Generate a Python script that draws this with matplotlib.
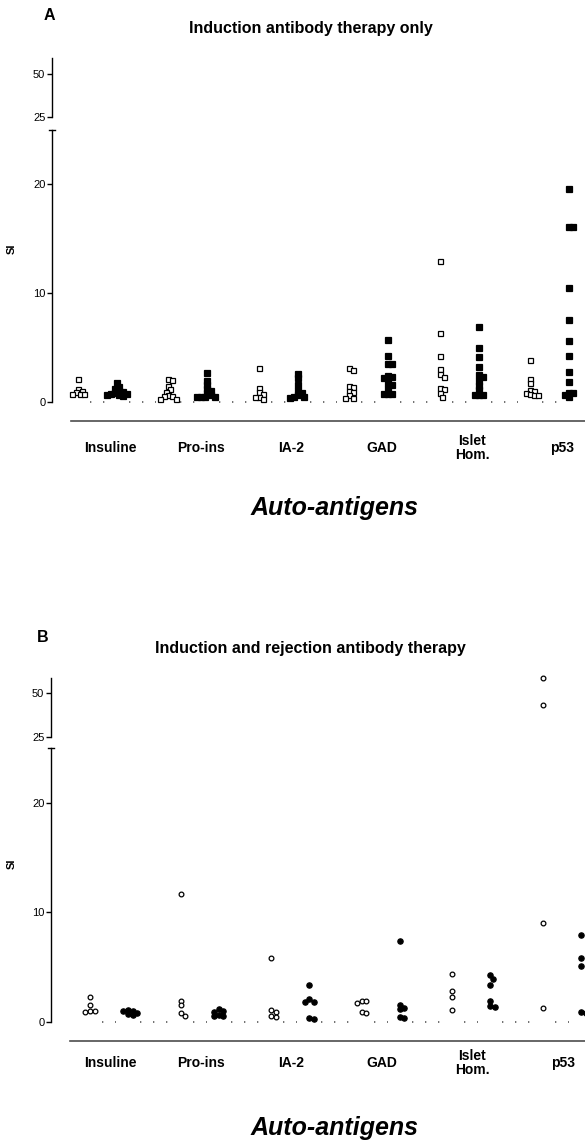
import numpy as np
import matplotlib.pyplot as plt
from matplotlib.transforms import blended_transform_factory

plt.rcParams['font.family'] = ['Liberation Sans', 'DejaVu Sans']

# --- data (SI values) ---
categories = ['Insuline', 'Pro-ins', 'IA-2', 'GAD', 'Islet\nHom.', 'p53']

# panel A: induction antibody therapy only (open = first group, filled = second)
a_open = [
    [2.1, 1.2, 1.0, 0.9, 0.7, 0.7, 0.7],
    [2.15, 2.0, 1.5, 1.2, 0.95, 0.6, 0.55, 0.55, 0.3, 0.3],
    [3.1, 1.25, 0.9, 0.7, 0.5, 0.5, 0.3],
    [3.1, 2.9, 1.5, 1.35, 1.0, 0.9, 0.6, 0.4, 0.4],
    [13.0, 6.3, 4.2, 3.0, 2.55, 2.3, 1.25, 1.2, 0.8, 0.5],
    [3.9, 2.1, 1.7, 1.1, 1.0, 0.85, 0.7, 0.6, 0.6],
]
a_filled = [
    [1.7, 1.4, 1.15, 1.0, 0.9, 0.8, 0.7, 0.7, 0.6, 0.6, 0.55],
    [2.65, 1.9, 1.55, 1.2, 1.0, 0.8, 0.6, 0.5, 0.5, 0.5, 0.45],
    [2.6, 2.2, 1.55, 1.0, 0.8, 0.6, 0.5, 0.5, 0.4],
    [5.7, 4.2, 3.5, 3.5, 2.4, 2.3, 2.2, 1.7, 1.6, 1.2, 0.75, 0.75, 0.7],
    [6.9, 4.95, 4.1, 3.25, 2.5, 2.3, 1.9, 1.5, 1.1, 0.65, 0.65, 0.65],
    [19.6, 16.1, 16.1, 10.5, 7.5, 5.6, 4.2, 2.8, 1.8, 0.85, 0.85, 0.6, 0.45],
]

# panel B: induction and rejection antibody therapy
b_open = [
    [2.3, 1.55, 1.0, 1.0, 0.95],
    [11.7, 1.95, 1.55, 0.85, 0.55],
    [5.85, 1.05, 0.95, 0.5, 0.45],
    [1.95, 1.95, 1.7, 0.95, 0.85],
    [4.35, 2.85, 2.25, 1.05],
    [58.7, 43.2, 9.0, 1.3],
]
b_filled = [
    [1.1, 1.0, 1.0, 0.8, 0.7, 0.6],
    [1.15, 1.0, 0.9, 0.6, 0.5, 0.5],
    [3.4, 2.1, 1.85, 1.85, 0.35, 0.3],
    [7.4, 1.55, 1.25, 1.15, 0.45, 0.35],
    [4.25, 3.9, 3.35, 1.95, 1.45, 1.35],
    [7.9, 5.85, 5.15, 0.95, 0.8],
]

W, H = 585, 1143
fig = plt.figure(figsize=(W / 100, H / 100), dpi=100)


def fx(px):
    return px / W


def fy(py):
    return 1 - py / H


def swarm_x(ax, x0, vals, d):
    # spread overlapping points sideways (in pixels), top values first
    vals = np.asarray(vals, float)
    pts = ax.transData.transform(np.column_stack([np.full(len(vals), x0), vals]))
    cx = pts[0, 0]
    placed = []
    out = np.empty(len(vals))
    inv = ax.transData.inverted()
    for i in np.argsort(-vals, kind='stable'):
        y = pts[i, 1]
        for k in range(80):
            m = (k + 1) // 2
            sign = 1 if k % 2 == 1 else -1
            x = cx + sign * m * d / 2
            if all(np.hypot(x - p[0], y - p[1]) >= d * 0.95 for p in placed):
                break
        placed.append((x, y))
        out[i] = inv.transform((x, y))[0]
    return out


def panel(top_px, brk_px, low_top_px, bot_px, left_px, x0_px, step_px, off_px,
          up_top, low_bot, xline_px, opens, filleds, marker, ms_open, ms_fill, d,
          letter, letter_xy, title, title_xy, lab_off, lab_y, big_y, si_y):
    xmin = (left_px - x0_px) / step_px
    xmax = (W - x0_px) / step_px
    off = off_px / step_px

    ax_up = fig.add_axes([fx(left_px), fy(brk_px), fx(W - left_px), (brk_px - top_px) / H])
    ax_lo = fig.add_axes([fx(left_px), fy(bot_px), fx(W - left_px), (bot_px - low_top_px) / H])
    ax_up.set_ylim(25, up_top)
    ax_lo.set_ylim(low_bot, 25)
    for ax in (ax_up, ax_lo):
        ax.set_xlim(xmin, xmax)
        ax.patch.set_alpha(0)
        ax.spines['top'].set_visible(False)
        ax.spines['right'].set_visible(False)
        ax.spines['left'].set_linewidth(1.0)
        ax.tick_params(axis='y', direction='out', length=3.3, width=1.0,
                       labelsize=8, pad=1.5)
        ax.tick_params(axis='x', length=0, labelbottom=False)
    ax_up.spines['bottom'].set_visible(False)
    ax_up.set_yticks([25, 50])
    ax_lo.set_yticks([0, 10, 20])
    ax_lo.spines['left'].set_bounds(0, 25)
    ax_lo.spines['bottom'].set_bounds((xline_px - x0_px) / step_px, xmax)
    ax_lo.spines['bottom'].set_color('0.3')
    ax_lo.spines['bottom'].set_linewidth(1.2)

    # little cap at the top of the lower axis segment
    tr = blended_transform_factory(ax_lo.transAxes, ax_lo.transData)
    cap = 3.0 / (W - left_px)
    ax_lo.plot([-cap, cap], [25, 25], transform=tr, color='k', lw=1.0, clip_on=False)

    # dotted baseline between the groups
    centres = sorted([i for i in range(len(categories))] +
                     [i + off for i in range(len(categories))])
    gap = 12 / step_px
    for a, b in zip(centres[:-1], centres[1:]):
        ax_lo.plot([a + gap, b - gap], [0, 0], color='0.35', lw=1.2,
                   ls=(0, (0.8, 7)), zorder=1)

    for i in range(len(categories)):
        for vals, xc, face, ms in ((opens[i], i, 'white', ms_open),
                                   (filleds[i], i + off, 'black', ms_fill)):
            vals = np.asarray(vals, float)
            lo = vals[vals <= 25]
            hi = vals[vals > 25]
            for ax, v in ((ax_lo, lo), (ax_up, hi)):
                if len(v) == 0:
                    continue
                xs = swarm_x(ax, xc, v, d)
                ax.plot(xs, v, ls='none', marker=marker, ms=ms, mfc=face,
                        mec='black', mew=0.9, clip_on=False, zorder=3)

    ltr = blended_transform_factory(ax_lo.transData, fig.transFigure)
    for i, name in enumerate(categories):
        fig.text(i + lab_off, fy(lab_y), name, transform=ltr, ha='center',
                 va='center', fontsize=10, fontweight='bold', linespacing=1.05)

    fig.text(fx(letter_xy[0]), fy(letter_xy[1]), letter, ha='center', va='center',
             fontsize=11.5, fontweight='bold')
    fig.text(fx(title_xy[0]), fy(title_xy[1]), title, ha='center', va='center',
             fontsize=11.5, fontweight='bold')
    fig.text(fx(335), fy(big_y), 'Auto-antigens', ha='center', va='center',
             fontsize=18, fontweight='bold', fontstyle='italic')
    fig.text(fx(12), fy(si_y), 'SI', ha='center', va='center', rotation=90,
             fontsize=8, fontweight='bold')


panel(58, 117, 130, 421, 52, 78, 90.4, 39, 59.3, -1.75, 70.7,
      a_open, a_filled, 's', 3.6, 3.9, 4.0,
      'A', (49, 15), 'Induction antibody therapy only', (311, 28),
      0.36, 448, 508, 249)

panel(678, 737, 748, 1041, 51, 90, 90.6, 38, 58.5, -1.74, 70,
      b_open, b_filled, 'o', 3.4, 3.8, 4.6,
      'B', (43, 637), 'Induction and rejection antibody therapy', (310, 649),
      0.22, 1063, 1128, 864)

fig.savefig('out.png', dpi=100)
